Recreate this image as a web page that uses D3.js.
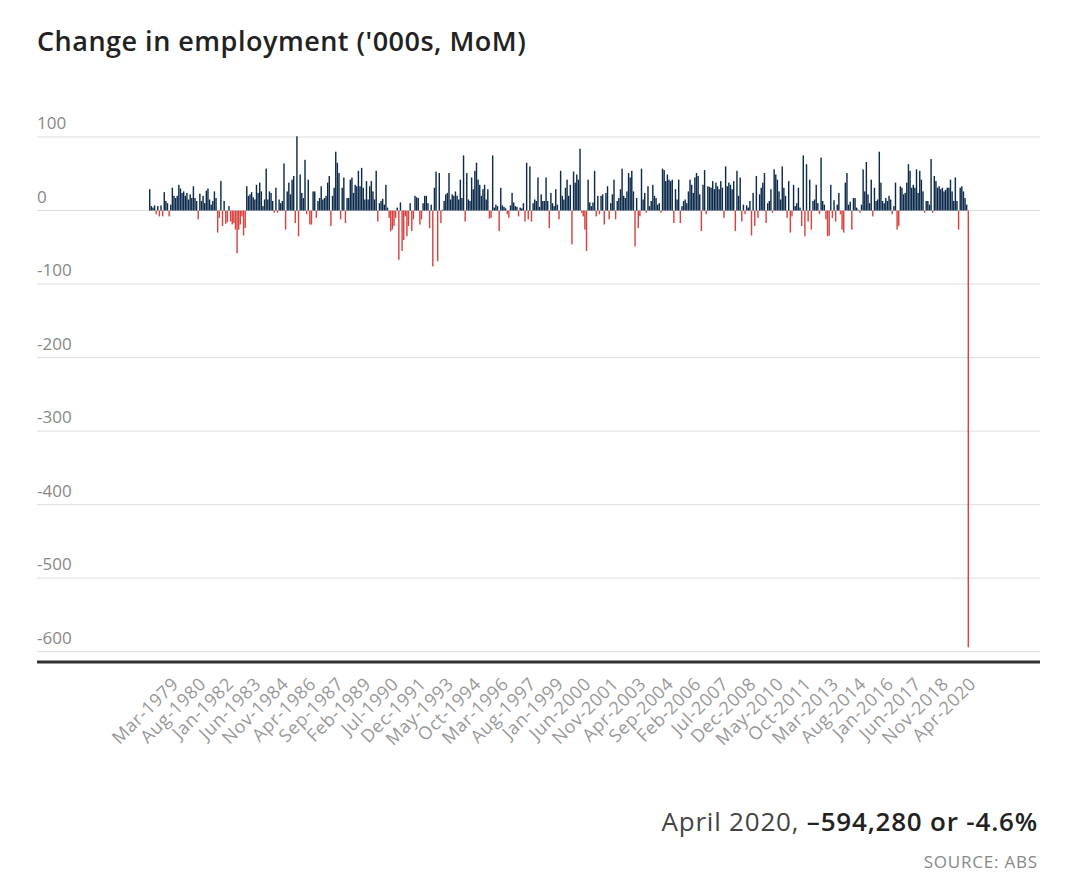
<!DOCTYPE html>
<html><head><meta charset="utf-8">
<script src="https://cdn.jsdelivr.net/npm/d3@7/dist/d3.min.js"></script>
<style>body{margin:0;background:#fff;} svg{display:block}</style>
</head><body>
<svg id="c" width="1080" height="892"></svg>
<script>
// Monthly change in employment ('000s), Feb-1978 .. Apr-2020
const firstMonth = new Date(1978, 1, 1);
const lastMonthExclusive = new Date(2020, 4, 1);
const monthlyChange = [
  29,6,4,7,-5,6,-8,7,-8,25,13,10,-8,8,31,20,17,20,35,30,24,26,20,24,15,22,17,33,17,13,
  -12,23,13,20,10,27,30,15,8,13,26,17,-30,-10,40,-21,13,-18,-16,6,-15,-19,-17,-26,-58,-26,-19,-8,-34,-24,
  33,20,22,25,18,
  15,35,24,38,26,6,15,57,15,26,24,13,-3,31,-3,15,10,13,64,-26,26,38,22,42,47,-17,101,-35,49,24,
  17,69,-5,42,-19,-19,26,26,-10,13,17,33,15,17,20,38,47,-21,20,31,80,65,51,-12,31,45,-17,17,17,42,
  45,24,35,33,54,33,58,31,15,40,15,
  33,40,26,15,54,-15,10,13,16,8,35,4,-10,-28,-26,-21,-10,4,-67,11,-55,-40,-8,-35,-21,10,-28,-12,20,18,
  17,-19,-12,10,20,20,10,-24,8,-76,31,53,-69,51,-17,1,13,22,24,51,15,22,20,26,20,15,42,17,75,-15,
  51,15,13,45,29,54,65,42,35,20,29,
  35,15,29,-11,-10,75,4,8,6,-28,31,7,5,3,-5,-10,7,24,11,6,5,-8,4,3,10,-15,65,-12,60,-15,
  10,15,13,45,5,22,13,13,45,13,-24,24,10,6,29,8,-12,54,20,15,31,42,20,35,-46,53,38,49,42,84,
  -3,-8,-26,-55,42,11,6,11,54,-8,20,
  -5,20,22,-19,24,33,-12,10,22,42,-12,13,17,29,57,20,17,26,51,45,54,26,-49,17,-24,-8,57,15,24,-3,
  33,6,13,35,20,17,8,10,-3,57,55,40,49,42,40,42,-17,29,15,42,-17,6,13,15,10,26,42,35,24,45,
  51,47,22,-28,35,55,-5,33,32,31,40,
  29,38,33,29,40,31,-10,60,33,38,35,29,40,-28,54,20,45,-15,8,-5,7,4,13,-34,24,-21,47,-10,22,31,
  38,51,-17,10,13,29,-3,56,49,42,26,15,60,31,20,-10,40,-30,-8,35,6,10,31,4,-21,75,-35,63,-15,42,
  -26,13,15,35,10,-5,72,13,8,-12,-35,
  -34,35,-10,14,-15,8,24,-5,-26,-30,38,51,8,12,
  -26,17,17,4,1,-3,8,56,26,66,22,10,42,-8,31,13,15,80,38,13,10,17,13,20,15,
  -5,6,38,-26,-21,33,31,22,24,38,63,54,31,35,31,56,24,54,42,26,-3,13,13,8,70,-3,47,40,31,33,29,31,26,28,
  31,31,42,26,13,45,13,-26,31,33,26,17,8,
  -594
];
const yTicks = [100, 0, -100, -200, -300, -400, -500, -600];
const tickLabels = ["Mar-1979","Aug-1980","Jan-1982","Jun-1983","Nov-1984","Apr-1986","Sep-1987","Feb-1989",
  "Jul-1990","Dec-1991","May-1993","Oct-1994","Mar-1996","Aug-1997","Jan-1999","Jun-2000","Nov-2001",
  "Apr-2003","Sep-2004","Feb-2006","Jul-2007","Dec-2008","May-2010","Oct-2011","Mar-2013","Aug-2014",
  "Jan-2016","Jun-2017","Nov-2018","Apr-2020"];
const titleText = "Change in employment ('000s, MoM)";
const noteLead = "April 2020, ";
const noteBold = "\u2013594,280 or -4.6%";
const sourceText = "SOURCE: ABS";

const fmt = d3.timeFormat("%b-%Y");
const categories = d3.timeMonth.range(firstMonth, lastMonthExclusive).map(fmt);
const data = categories.map((c, i) => ({c, v: monthlyChange[i]}));

const svg = d3.select("#c");
const F = "'Open Sans', 'Noto Sans', sans-serif";
const left = 37, right = 1040;

const x = d3.scaleBand().domain(categories).range([149, 969]).paddingInner(0.12);
const y = d3.scaleLinear().domain([-614, 100]).range([662, 137]);

svg.append("text").attr("x", left).attr("y", 51)
  .attr("font-family", F).attr("font-weight", 600).attr("font-size", 27)
  .attr("letter-spacing", 0.5)
  .attr("fill", "#222").text(titleText);

const grid = svg.append("g");
yTicks.forEach(t => {
  grid.append("line").attr("x1", left).attr("x2", right)
    .attr("y1", y(t)).attr("y2", y(t)).attr("stroke", "#dedede").attr("stroke-width", 1);
  grid.append("text").attr("x", left).attr("y", y(t) - 8)
    .attr("font-family", F).attr("font-size", 17).attr("fill", "#888").text(t);
});

svg.append("g").selectAll("rect").data(data).join("rect")
  .attr("x", d => x(d.c))
  .attr("width", x.bandwidth())
  .attr("y", d => y(Math.max(0, d.v)))
  .attr("height", d => Math.abs(y(d.v) - y(0)))
  .attr("fill", d => d.v >= 0 ? "#0c2a4b" : "#d9423f");

svg.append("line").attr("x1", left).attr("x2", right)
  .attr("y1", y(-614)).attr("y2", y(-614)).attr("stroke", "#333").attr("stroke-width", 3);

const xl = svg.append("g");
tickLabels.forEach(l => {
  const tx = x(l) + x.bandwidth() / 2;
  xl.append("text")
    .attr("transform", `translate(${tx + 9},${685}) rotate(-45)`)
    .attr("text-anchor", "end")
    .attr("font-family", F).attr("font-size", 18).attr("letter-spacing", 0.6)
    .attr("fill", "#999").text(l);
});

const note = svg.append("text").attr("x", 1038).attr("y", 831).attr("text-anchor", "end")
  .attr("font-family", F).attr("font-size", 26).attr("letter-spacing", 0.8).attr("fill", "#444");
note.append("tspan").text(noteLead);
note.append("tspan").attr("font-weight", 600).attr("fill", "#222").text(noteBold);

svg.append("text").attr("x", 1038).attr("y", 868).attr("text-anchor", "end")
  .attr("font-family", F).attr("font-size", 17).attr("letter-spacing", 0.8)
  .attr("fill", "#888").text(sourceText);
</script>
</body></html>
